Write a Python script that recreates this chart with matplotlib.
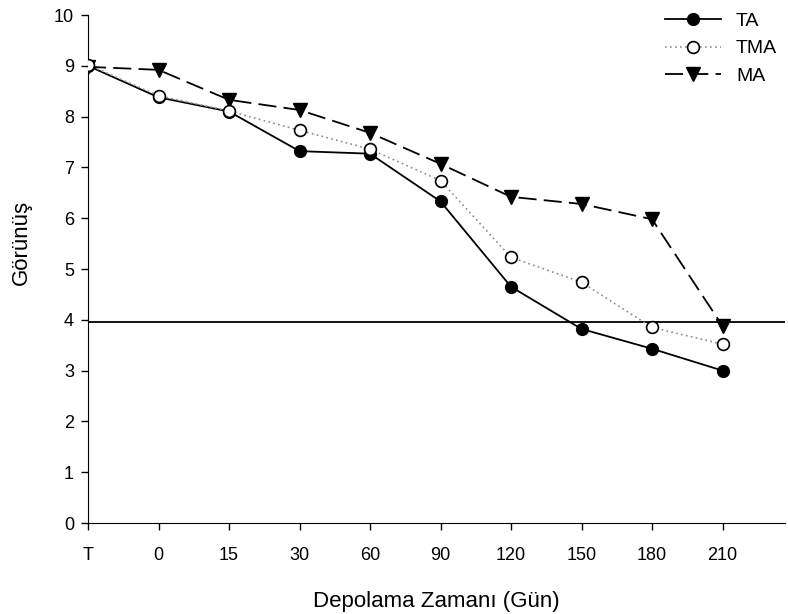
import matplotlib.pyplot as plt

plt.rcParams['font.family'] = ['Liberation Sans', 'DejaVu Sans']

gunler = ['T', '0', '15', '30', '60', '90', '120', '150', '180', '210']
ta = [9.0, 8.38, 8.10, 7.32, 7.27, 6.33, 4.65, 3.82, 3.43, 3.00]
tma = [9.02, 8.41, 8.11, 7.73, 7.36, 6.74, 5.23, 4.74, 3.85, 3.52]
ma = [8.98, 8.92, 8.33, 8.13, 7.68, 7.07, 6.42, 6.28, 5.98, 3.88]
sinir = 3.95

x = list(range(len(gunler)))

fig = plt.figure(figsize=(7.88, 6.14), dpi=100)
ax = fig.add_axes([88 / 788, 1 - 523 / 614, (785 - 88) / 788, (523 - 15) / 614])

ax.axhline(sinir, color='black', linewidth=1.3, zorder=1)

ax.plot(x, ma, color='black', linestyle=(0, (10, 4)), linewidth=1.3,
        marker='v', markersize=10, markerfacecolor='black', label='MA', zorder=2)
ax.plot(x, ta, color='black', linestyle='-', linewidth=1.3,
        marker='o', markersize=8.5, markerfacecolor='black', label='TA', zorder=3)
ax.plot(x, tma, color='#8c8c8c', linestyle=(0, (1, 2)), linewidth=1.2,
        marker='o', markersize=8.5, markerfacecolor='white',
        markeredgecolor='black', markeredgewidth=1.2, label='TMA', zorder=4)

ax.set_xlim(0, (785 - 88) / 70.5)
ax.set_ylim(0, 10)
ax.set_xticks(x)
ax.set_xticklabels(gunler)
ax.set_yticks(range(0, 11))

ax.spines['top'].set_visible(False)
ax.spines['right'].set_visible(False)
ax.tick_params(direction='out', length=5, width=1, labelsize=13, pad=12)
ax.tick_params(axis='y', pad=5)

ax.set_xlabel('Depolama Zamanı (Gün)', fontsize=16, labelpad=20)
ax.set_ylabel('Görünüş', fontsize=16)
ax.yaxis.set_label_coords(-56 / 697, (523 - 242) / 508)

handles, labels = ax.get_legend_handles_labels()
orden = [1, 2, 0]
ax.legend([handles[i] for i in orden], [labels[i] for i in orden],
          loc='upper left', bbox_to_anchor=(665 / 788, 1 - 12 / 614),
          bbox_transform=fig.transFigure, borderaxespad=0, borderpad=0,
          frameon=False, fontsize=14, handlelength=2.9, labelspacing=0.52,
          handletextpad=0.75)

fig.savefig('out.png', dpi=100)
